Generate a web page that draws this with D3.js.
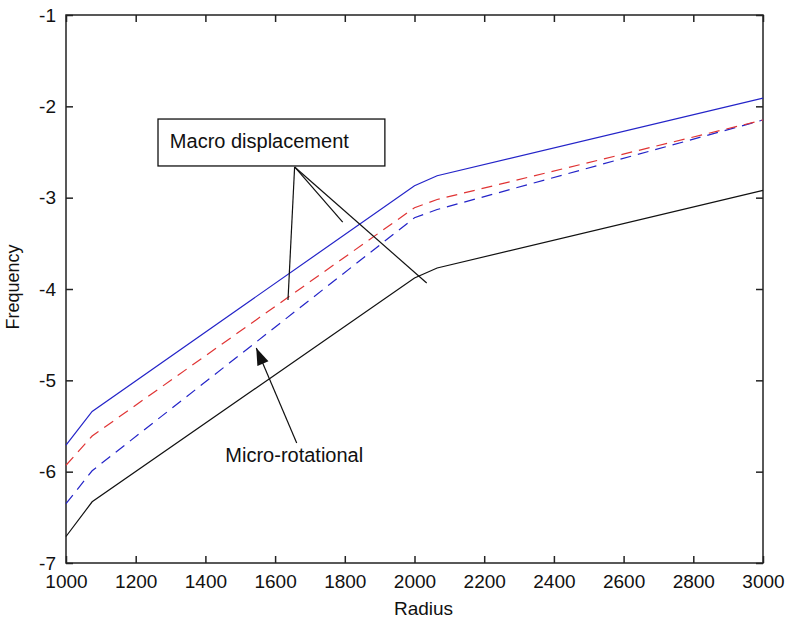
<!DOCTYPE html>
<html>
<head>
<meta charset="utf-8">
<script src="https://cdnjs.cloudflare.com/ajax/libs/d3/7.8.5/d3.min.js"></script>
<style>
  body { margin: 0; background: #fff; }
  svg text { font-family: "Liberation Sans", Arial, sans-serif; fill: #111; }
</style>
</head>
<body>
<div id="viz"></div>
<script>
// data
var radius     = [1000, 1075, 2000, 2065, 3000];
var blueSolid  = [-5.71, -5.34, -2.87, -2.76, -1.91];
var redDashed  = [-5.93, -5.61, -3.11, -3.02, -2.15];
var blueDashed = [-6.35, -5.99, -3.22, -3.13, -2.15];
var blackSolid = [-6.71, -6.33, -3.88, -3.77, -2.92];

var xTicks = [1000, 1200, 1400, 1600, 1800, 2000, 2200, 2400, 2600, 2800, 3000];
var yTicks = [-7, -6, -5, -4, -3, -2, -1];

// annotation anchors, in data units
var macroBox   = [[1264, -2.139], [1915, -2.653]];
var macroText  = [1298, -2.456];
var macroFrom  = [1656, -2.664];
var macroTo    = [[1637, -4.12], [1794, -3.267], [2035, -3.934]];
var microTip   = [1546, -4.646];
var microTail  = [1662, -5.686];
var microText  = [1655, -5.889];

var W = 787, H = 624;
var svg = d3.select("#viz").append("svg")
    .attr("width", W)
    .attr("height", H);

var x = d3.scaleLinear().domain([1000, 3000]).range([66, 763]);
var y = d3.scaleLinear().domain([-7, -1]).range([563, 15]);

var axisColor = "#222";
var plain = function(d){ return String(d); };   // keep ascii hyphen like matlab

// ticks inside the box, labels only on bottom / left
var gx = svg.append("g").attr("transform", "translate(0," + y(-7) + ")")
    .call(d3.axisBottom(x).tickValues(xTicks).tickSize(-7).tickPadding(11.5).tickFormat(plain));
var gxt = svg.append("g").attr("transform", "translate(0," + y(-1) + ")")
    .call(d3.axisTop(x).tickValues(xTicks).tickSize(-7).tickFormat(""));
var gy = svg.append("g").attr("transform", "translate(" + x(1000) + ",0)")
    .call(d3.axisLeft(y).tickValues(yTicks).tickSize(-7).tickPadding(10).tickFormat(plain));
var gyr = svg.append("g").attr("transform", "translate(" + x(3000) + ",0)")
    .call(d3.axisRight(y).tickValues(yTicks).tickSize(-7).tickFormat(""));

[gx, gxt, gy, gyr].forEach(function(g){
    g.select(".domain").remove();
    g.selectAll(".tick line").attr("stroke", axisColor).attr("stroke-width", 1.5);
    g.selectAll(".tick text").attr("font-size", 19).attr("font-family", "Liberation Sans, Arial, sans-serif").attr("fill", "#111");
});

svg.append("rect")
    .attr("x", x(1000)).attr("y", y(-1))
    .attr("width", x(3000) - x(1000))
    .attr("height", y(-7) - y(-1))
    .attr("fill", "none")
    .attr("stroke", axisColor)
    .attr("stroke-width", 1.5);

// lines
var line = d3.line()
    .x(function(d){ return x(d[0]); })
    .y(function(d){ return y(d[1]); });

var series = [
    {vals: blackSolid, color: "#111",    dash: null},
    {vals: blueDashed, color: "#2424c8", dash: "11,7"},
    {vals: redDashed,  color: "#e03434", dash: "11,7"},
    {vals: blueSolid,  color: "#2424c8", dash: null}
];
series.forEach(function(s){
    svg.append("path")
        .datum(d3.zip(radius, s.vals))
        .attr("d", line)
        .attr("fill", "none")
        .attr("stroke", s.color)
        .attr("stroke-width", 1.2)
        .attr("stroke-dasharray", s.dash);
});

// axis labels
svg.append("text")
    .attr("x", (x(1000) + x(3000)) / 2 + 9)
    .attr("y", 615)
    .attr("text-anchor", "middle")
    .attr("font-size", 19)
    .text("Radius");

svg.append("text")
    .attr("transform", "translate(19," + 287 + ") rotate(-90)")
    .attr("text-anchor", "middle")
    .attr("font-size", 18)
    .text("Frequency");

// Macro displacement annotation
svg.append("rect")
    .attr("x", x(macroBox[0][0])).attr("y", y(macroBox[0][1]))
    .attr("width", x(macroBox[1][0]) - x(macroBox[0][0]))
    .attr("height", y(macroBox[1][1]) - y(macroBox[0][1]))
    .attr("fill", "#fff")
    .attr("stroke", "#111")
    .attr("stroke-width", 1.3);

svg.append("text")
    .attr("x", x(macroText[0])).attr("y", y(macroText[1]))
    .attr("font-size", 20)
    .text("Macro displacement");

macroTo.forEach(function(p){
    svg.append("line")
        .attr("x1", x(macroFrom[0])).attr("y1", y(macroFrom[1]))
        .attr("x2", x(p[0])).attr("y2", y(p[1]))
        .attr("stroke", "#111")
        .attr("stroke-width", 1.2);
});

// Micro-rotational arrow
var tx = x(microTip[0]), ty = y(microTip[1]);
var sx = x(microTail[0]), sy = y(microTail[1]);
svg.append("line")
    .attr("x1", sx).attr("y1", sy)
    .attr("x2", tx).attr("y2", ty)
    .attr("stroke", "#111")
    .attr("stroke-width", 1.2);

var ang = Math.atan2(ty - sy, tx - sx);
var hl = 17, hw = 6;
var bx = tx - hl * Math.cos(ang), by = ty - hl * Math.sin(ang);
svg.append("path")
    .attr("d", "M" + tx + "," + ty +
        "L" + (bx + hw * Math.sin(ang)) + "," + (by - hw * Math.cos(ang)) +
        "L" + (bx - hw * Math.sin(ang)) + "," + (by + hw * Math.cos(ang)) + "Z")
    .attr("fill", "#111");

svg.append("text")
    .attr("x", x(microText[0])).attr("y", y(microText[1]))
    .attr("text-anchor", "middle")
    .attr("font-size", 20)
    .text("Micro-rotational");
</script>
</body>
</html>
